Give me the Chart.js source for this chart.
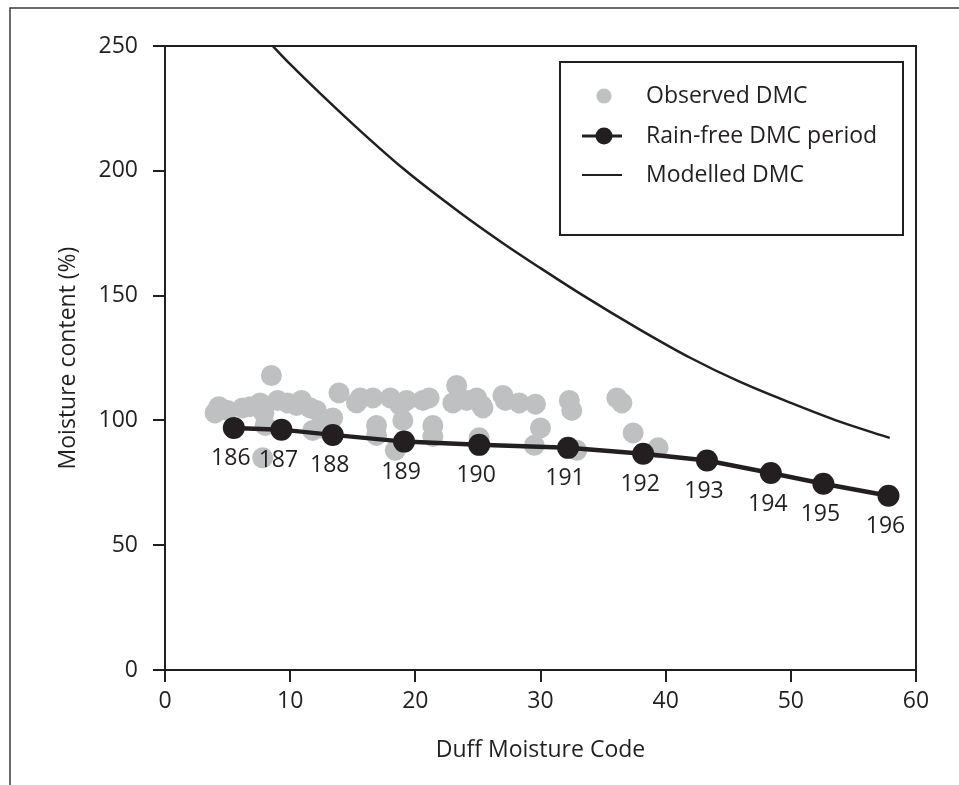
<!DOCTYPE html>
<html>
<head>
<meta charset="utf-8">
<title>Moisture content vs Duff Moisture Code</title>
<script src="https://cdn.jsdelivr.net/npm/chart.js@4.4.0/dist/chart.umd.min.js"></script>
<style>
  html, body { margin: 0; padding: 0; background: #fff; }
</style>
</head>
<body>
<canvas id="dmcChart" width="959" height="785"></canvas>
<script>
// rain-free period (day of year labels under each point)
const dayLabels = ["186", "187", "188", "189", "190", "191", "192", "193", "194", "195", "196"];
const rainFreeDmc = [5.5, 9.3, 13.4, 19.1, 25.1, 32.2, 38.2, 43.3, 48.4, 52.6, 57.8];
const rainFreeMoisture = [97, 96.3, 94.2, 91.5, 90.2, 89, 86.6, 83.9, 78.9, 74.6, 69.8];

// observed DMC samples
const obsDmc = [4.0, 4.3, 5.0, 6.2, 6.8, 7.6, 7.9, 8.5, 9.0, 8.0, 7.8, 9.8, 10.5, 10.9, 11.6, 12.1,
  11.8, 12.5, 13.4, 13.9, 15.3, 15.6, 16.6, 16.9, 16.9, 18.0, 18.8, 19.0, 18.4, 19.3, 20.6, 21.1,
  21.4, 21.4, 23.0, 23.3, 24.1, 24.9, 25.4, 25.1, 25.3, 27.0, 27.2, 28.3, 29.6, 29.5, 30.0, 32.3,
  32.5, 32.9, 36.1, 36.5, 37.4, 39.4];
const obsMoisture = [103, 105.5, 104, 105, 105.5, 107, 103, 118, 108, 98, 85, 107, 106, 108, 105, 104,
  96, 97, 101, 111, 107, 109, 109, 98, 94, 109, 106, 100, 88, 108, 108, 109,
  98, 93.5, 107, 114, 108, 109, 105, 93, 106, 110, 108, 107, 106.5, 90, 97, 108,
  104, 88, 109, 107, 95, 89];

// modelled curve
const modelDmc = [8.6, 10, 12.5, 15.6, 19, 23.5, 27, 30, 33.1, 37.9, 42, 45.9, 50, 53.9, 57.9];
const modelMoisture = [250, 242.7, 230.5, 216, 201, 183.5, 171, 161, 151, 136.5, 125, 115.5, 107, 99.5, 93];

const INK = "#231f20";
const GREY = "#bfc0c2";
const FONT = '23px "Open Sans", sans-serif';

Chart.defaults.font.family = '"Open Sans", sans-serif';
Chart.defaults.font.size = 23;
Chart.defaults.color = INK;

function pairs(xs, ys) {
  return xs.map((x, i) => ({ x: x, y: ys[i] }));
}

// day labels under the rain-free points
const pointLabels = {
  id: "pointLabels",
  afterDatasetsDraw(chart) {
    const meta = chart.getDatasetMeta(0);
    const ctx = chart.ctx;
    ctx.save();
    ctx.font = FONT;
    ctx.fillStyle = INK;
    ctx.textAlign = "center";
    ctx.textBaseline = "middle";
    meta.data.forEach((pt, i) => {
      ctx.fillText(dayLabels[i], pt.x - 3, pt.y + 31);
    });
    ctx.restore();
  }
};

// outer frame, plot box and the boxed legend
const frameAndLegend = {
  id: "frameAndLegend",
  afterDraw(chart) {
    const ctx = chart.ctx;
    const a = chart.chartArea;
    ctx.save();
    ctx.strokeStyle = "#3a3a3a";
    ctx.lineWidth = 1.5;
    ctx.beginPath();
    ctx.moveTo(10, 785);
    ctx.lineTo(10, 8);
    ctx.lineTo(959, 8);
    ctx.stroke();

    ctx.strokeStyle = INK;
    ctx.lineWidth = 2;
    ctx.beginPath();
    ctx.moveTo(a.left, a.top);
    ctx.lineTo(a.right, a.top);
    ctx.lineTo(a.right, a.bottom);
    ctx.stroke();

    // legend
    ctx.fillStyle = "#fff";
    ctx.fillRect(560, 62, 343, 173);
    ctx.lineWidth = 2;
    ctx.strokeRect(560, 62, 343, 173);

    const rows = [96, 136, 175];
    ctx.fillStyle = GREY;
    ctx.beginPath();
    ctx.arc(604, rows[0], 7.5, 0, Math.PI * 2);
    ctx.fill();

    ctx.strokeStyle = INK;
    ctx.lineWidth = 3;
    ctx.beginPath();
    ctx.moveTo(582, rows[1]);
    ctx.lineTo(622, rows[1]);
    ctx.stroke();
    ctx.fillStyle = INK;
    ctx.beginPath();
    ctx.arc(604, rows[1], 8.5, 0, Math.PI * 2);
    ctx.fill();

    ctx.lineWidth = 2;
    ctx.beginPath();
    ctx.moveTo(582, rows[2]);
    ctx.lineTo(622, rows[2]);
    ctx.stroke();

    ctx.font = FONT;
    ctx.textAlign = "left";
    ctx.textBaseline = "middle";
    ctx.fillStyle = INK;
    const names = [chart.data.datasets[1].label, chart.data.datasets[0].label, chart.data.datasets[2].label];
    names.forEach((t, i) => ctx.fillText(t, 646, rows[i]));
    ctx.restore();
  }
};

const dmcChart = new Chart(document.getElementById("dmcChart"), {
  type: "scatter",
  data: {
    datasets: [
      {
        label: "Rain-free DMC period",
        data: pairs(rainFreeDmc, rainFreeMoisture),
        showLine: true,
        borderColor: INK,
        borderWidth: 4.5,
        backgroundColor: INK,
        pointRadius: 11,
        pointBorderWidth: 0
      },
      {
        label: "Observed DMC",
        data: pairs(obsDmc, obsMoisture),
        backgroundColor: GREY,
        borderColor: GREY,
        pointRadius: 10.5,
        pointBorderWidth: 0
      },
      {
        label: "Modelled DMC",
        data: pairs(modelDmc, modelMoisture),
        showLine: true,
        borderColor: INK,
        borderWidth: 2.5,
        pointRadius: 0,
        cubicInterpolationMode: "monotone"
      }
    ]
  },
  options: {
    responsive: false,
    animation: false,
    layout: { padding: { left: 0, right: 43, top: 46, bottom: 0 } },
    plugins: {
      legend: { display: false },
      tooltip: { enabled: false }
    },
    scales: {
      x: {
        type: "linear",
        min: 0,
        max: 60,
        ticks: { stepSize: 10, padding: 6, color: INK },
        grid: { drawOnChartArea: false, tickLength: 12, color: INK, lineWidth: 2 },
        border: { color: INK, width: 2 },
        title: { display: true, text: "Duff Moisture Code", color: INK, padding: { top: 0, bottom: 21 } },
        afterFit: (scale) => { scale.height = 115; }
      },
      y: {
        min: 0,
        max: 250,
        ticks: { stepSize: 50, padding: 15, color: INK },
        grid: { drawOnChartArea: false, tickLength: 12, color: INK, lineWidth: 2 },
        border: { color: INK, width: 2 },
        title: { display: true, text: "Moisture content (%)", color: INK, padding: { top: 55, bottom: 0 } },
        afterFit: (scale) => { scale.width = 165; }
      }
    }
  },
  plugins: [pointLabels, frameAndLegend]
});
</script>
</body>
</html>
